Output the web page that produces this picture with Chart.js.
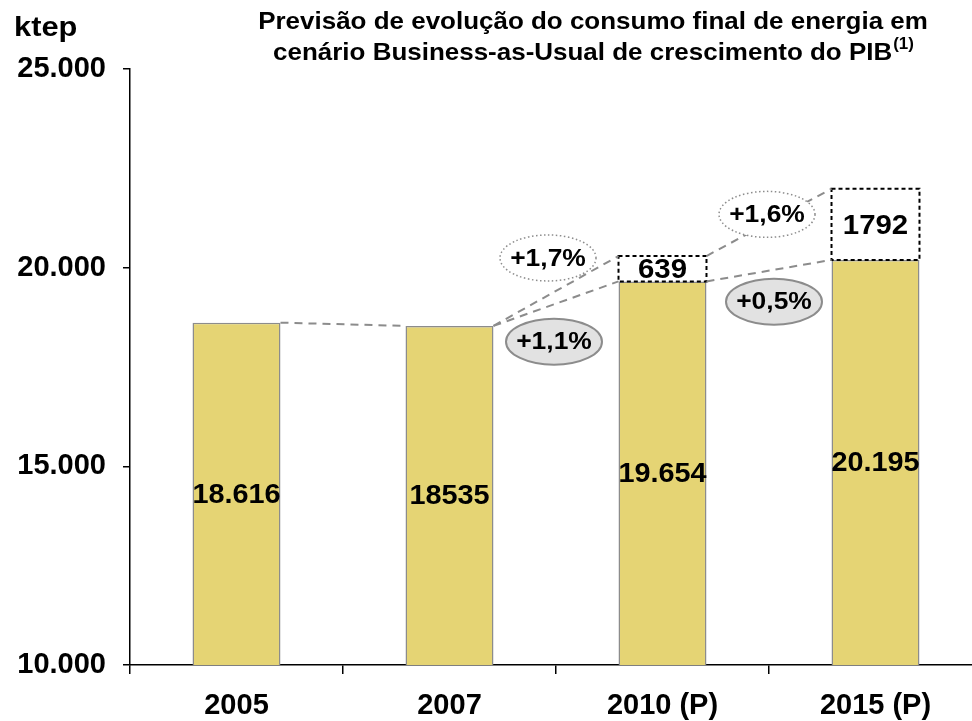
<!DOCTYPE html>
<html>
<head>
<meta charset="utf-8">
<script src="https://cdn.jsdelivr.net/npm/chart.js@4.4.1/dist/chart.umd.min.js"></script>
<style>
    html, body { margin: 0; padding: 0; background: #fff; overflow: hidden; }
    #wrap { width: 1000px; height: 721px; }
</style>
</head>
<body>
<div id="wrap"><canvas id="consumoChart" width="1000" height="721"></canvas></div>
<script>
// dados do gráfico
const categorias = ['2005', '2007', '2010 (P)', '2015 (P)'];
const consumo = [18616, 18535, 19654, 20195];
const acrescimo = [null, null, 639, 1792];
const rotulosConsumo = ['18.616', '18535', '19.654', '20.195'];
const rotulosAcrescimo = ['', '', '639', '1792'];
const escalaY = [10000, 15000, 20000, 25000];
const crescimento = ['+1,1%', '+1,7%', '+0,5%', '+1,6%'];

const FONT = 'Arial, "Liberation Sans", sans-serif';
const CINZA = '#8c8c8c';

function milhares(v) {
    return String(v).replace(/\B(?=(\d{3})+(?!\d))/g, '.');
}

// texto ligeiramente alargado na horizontal, como no original
function texto(ctx, txt, x, y, esticar) {
    ctx.save();
    ctx.translate(x, y);
    ctx.scale(esticar, 1);
    ctx.fillText(txt, 0, 0);
    ctx.restore();
}

// linhas tracejadas entre barras: [de, nível, para, nível, índice do rótulo]
const ligacoes = [
    [0, 'base', 1, 'base', -1],
    [1, 'base', 2, 'base', 0],
    [1, 'base', 2, 'topo', 1],
    [2, 'base', 3, 'base', 2],
    [2, 'topo', 3, 'topo', 3]
];
// deslocamento das elipses em relação ao meio da linha
const desvioElipse = [[-2, 38], [-8, -33], [5, 31], [-2, -8]];

const anotacoes = {
    id: 'anotacoes',
    afterDatasetsDraw(chart) {
        const ctx = chart.ctx;
        const fundo = chart.chartArea.bottom;
        const base = chart.getDatasetMeta(0).data;
        const topo = chart.getDatasetMeta(1).data;

        // caixas tracejadas do acréscimo
        ctx.save();
        ctx.strokeStyle = '#000';
        ctx.lineWidth = 2;
        ctx.setLineDash([4, 3]);
        topo.forEach((el, i) => {
            if (acrescimo[i] == null) return;
            ctx.strokeRect(el.x - el.width / 2, el.y, el.width, el.base - el.y);
        });
        ctx.restore();

        // linhas de ligação
        function ponto(i, nivel, lado) {
            const el = nivel === 'topo' ? topo[i] : base[i];
            return { x: el.x + lado * el.width / 2, y: el.y };
        }
        ctx.save();
        ctx.strokeStyle = CINZA;
        ctx.lineWidth = 2;
        ctx.setLineDash([8, 6]);
        const meios = [];
        ligacoes.forEach(l => {
            const a = ponto(l[0], l[1], 1);
            const b = ponto(l[2], l[3], -1);
            ctx.beginPath();
            ctx.moveTo(a.x, a.y);
            ctx.lineTo(b.x, b.y);
            ctx.stroke();
            if (l[4] >= 0) meios[l[4]] = { x: (a.x + b.x) / 2, y: (a.y + b.y) / 2, nivel: l[3] };
        });
        ctx.restore();

        // elipses com a taxa de crescimento
        crescimento.forEach((txt, k) => {
            const m = meios[k];
            const cx = m.x + desvioElipse[k][0];
            const cy = m.y + desvioElipse[k][1];
            ctx.save();
            ctx.beginPath();
            ctx.ellipse(cx, cy, 48, 23, 0, 0, Math.PI * 2);
            if (m.nivel === 'base') {
                ctx.fillStyle = '#e2e2e2';
                ctx.fill();
                ctx.strokeStyle = CINZA;
                ctx.lineWidth = 2;
            } else {
                ctx.fillStyle = '#fff';
                ctx.fill();
                ctx.strokeStyle = CINZA;
                ctx.lineWidth = 1.5;
                ctx.setLineDash([1.5, 2.5]);
            }
            ctx.stroke();
            ctx.fillStyle = '#000';
            ctx.font = 'bold 24px ' + FONT;
            ctx.textAlign = 'center';
            ctx.textBaseline = 'middle';
            texto(ctx, txt, cx, cy + 1, 1.1);
            ctx.restore();
        });

        // valores dentro das barras
        ctx.save();
        ctx.fillStyle = '#000';
        ctx.font = 'bold 28px ' + FONT;
        ctx.textAlign = 'center';
        ctx.textBaseline = 'middle';
        base.forEach((el, i) => {
            texto(ctx, rotulosConsumo[i], el.x, (el.y + Math.min(el.base, fundo)) / 2 + 1, 1.03);
        });
        topo.forEach((el, i) => {
            if (!rotulosAcrescimo[i]) return;
            texto(ctx, rotulosAcrescimo[i], el.x, (el.y + el.base) / 2 + 2, 1.05);
        });
        ctx.restore();
    },
    afterDraw(chart) {
        const ctx = chart.ctx;
        ctx.save();
        ctx.fillStyle = '#000';
        ctx.textBaseline = 'middle';
        // unidade
        ctx.font = 'bold 28px ' + FONT;
        ctx.textAlign = 'left';
        texto(ctx, 'ktep', 14, 28, 1.1);
        // título
        const cx = 593;
        const k = 1.06;
        ctx.font = 'bold 24.5px ' + FONT;
        ctx.textAlign = 'center';
        texto(ctx, 'Previsão de evolução do consumo final de energia em', cx, 22, k);
        const l2 = 'cenário Business-as-Usual de crescimento do PIB';
        const w2 = ctx.measureText(l2).width * k;
        ctx.font = 'bold 16px ' + FONT;
        const ws = ctx.measureText('(1)').width * k;
        const x0 = cx - (w2 + ws) / 2;
        ctx.textAlign = 'left';
        ctx.font = 'bold 24.5px ' + FONT;
        texto(ctx, l2, x0, 53, k);
        ctx.font = 'bold 16px ' + FONT;
        texto(ctx, '(1)', x0 + w2 + 1, 45, k);
        ctx.restore();
    }
};

const ctx = document.getElementById('consumoChart').getContext('2d');
new Chart(ctx, {
    type: 'bar',
    data: {
        labels: categorias,
        datasets: [{
            data: consumo,
            backgroundColor: 'rgb(229, 212, 116)',
            borderColor: CINZA,
            borderWidth: 1.5,
            barPercentage: 0.413,
            categoryPercentage: 1
        }, {
            data: acrescimo,
            backgroundColor: '#ffffff',
            borderWidth: 0,
            barPercentage: 0.413,
            categoryPercentage: 1
        }]
    },
    options: {
        responsive: false,
        animation: false,
        layout: { padding: { top: 69, right: 18, left: 0, bottom: 0 } },
        plugins: {
            legend: { display: false },
            tooltip: { enabled: false },
            title: { display: false }
        },
        scales: {
            x: {
                stacked: true,
                afterFit(scale) { scale.height = 56; },
                grid: { drawOnChartArea: false, tickLength: 9, color: '#000', lineWidth: 1.5 },
                border: { color: '#000', width: 1.5 },
                ticks: { color: '#000', padding: 15, font: { family: FONT, size: 29, weight: 'bold' } }
            },
            y: {
                stacked: true,
                min: 10000,
                max: 25000,
                afterFit(scale) { scale.width = 130; },
                afterBuildTicks(scale) { scale.ticks = escalaY.map(v => ({ value: v })); },
                grid: { drawOnChartArea: false, tickLength: 7, color: '#000', lineWidth: 1.5 },
                border: { color: '#000', width: 1.5 },
                ticks: {
                    color: '#000',
                    padding: 17,
                    font: { family: FONT, size: 29, weight: 'bold' },
                    callback: v => milhares(v)
                }
            }
        }
    },
    plugins: [anotacoes]
});
</script>
</body>
</html>
